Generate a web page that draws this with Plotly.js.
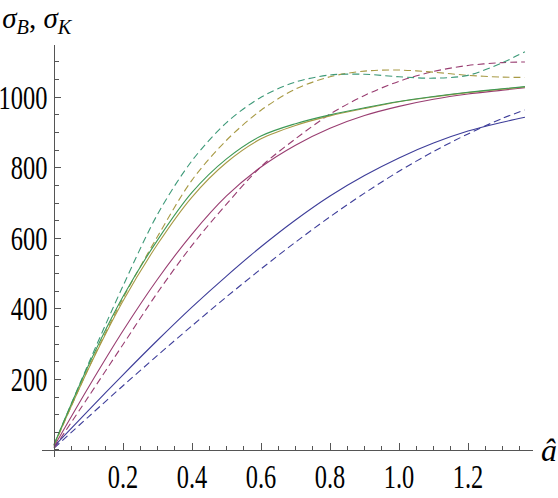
<!DOCTYPE html>
<html>
<head>
<meta charset="utf-8">
<script src="https://cdn.plot.ly/plotly-3.0.1.min.js"></script>
<style>html,body{margin:0;padding:0;background:#fff;}</style>
</head>
<body>
<div id="chart" style="width:558px;height:498px;"></div>
<script>
// x values (â)
const aHat = [0, 0.1, 0.2, 0.3, 0.4, 0.5, 0.6, 0.7, 0.8, 0.9, 1.0, 1.1, 1.2, 1.3, 1.365];

// solid curves (σ_B)
const sigmaB1 = [10, 112, 213, 311, 405, 493, 576, 652, 720, 778, 828, 870, 904, 929, 943];
const sigmaB2 = [10, 178, 338, 484, 612, 720, 802, 864, 912, 948, 974, 994, 1009, 1020, 1027];
const sigmaB3 = [14, 230, 422, 583, 717, 815, 882, 920, 947, 968, 987, 1001, 1013, 1023, 1029];
const sigmaB4 = [15, 240, 435, 595, 730, 825, 890, 925, 950, 970, 988, 1002, 1014, 1024, 1030];

// dashed curves (σ_K)
const sigmaK1 = [5, 94, 182, 268, 352, 434, 513, 589, 661, 728, 790, 846, 896, 940, 964];
const sigmaK2 = [5, 151, 299, 446, 580, 697, 803, 882, 952, 1005, 1045, 1073, 1090, 1098, 1100];
const sigmaK3 = [12, 232, 430, 605, 765, 878, 963, 1023, 1058, 1074, 1077, 1071, 1062, 1057, 1056];
const sigmaK4 = [15, 245, 465, 668, 820, 928, 1000, 1043, 1063, 1065, 1058, 1054, 1062, 1098, 1129];

// tick labels
const xTickVals = [0.2, 0.4, 0.6, 0.8, 1.0, 1.2];
const xTickText = ["0.2", "0.4", "0.6", "0.8", "1.0", "1.2"];
const yTickVals = [200, 400, 600, 800, 1000];
const yTickText = ["200", "400", "600", "800", "1000"];

const colors = ["#3d3d99", "#993d71", "#a89a45", "#3d9956"];
const dashColors = ["#3d3d99", "#993d71", "#a89a45", "#3d9978"];

const solid = [sigmaB1, sigmaB2, sigmaB3, sigmaB4];
const dashed = [sigmaK1, sigmaK2, sigmaK3, sigmaK4];

const traces = [];
dashed.forEach((ys, i) => traces.push({
  x: aHat, y: ys, type: "scatter", mode: "lines",
  line: {color: dashColors[i], width: 1.1, dash: "7px,4px", shape: "spline", smoothing: 0.9},
  hoverinfo: "skip", showlegend: false
}));
solid.forEach((ys, i) => traces.push({
  x: aHat, y: ys, type: "scatter", mode: "lines",
  line: {color: colors[i], width: 1.1, shape: "spline", smoothing: 0.9},
  hoverinfo: "skip", showlegend: false
}));

const axisColor = "#555555";
const serif = "Liberation Serif, Times New Roman, serif";
const tickFont = {family: serif, size: 33, color: "#000"};

const xr = [-0.0348, 1.3884];
const yr = [-20, 1148];

const layout = {
  width: 558, height: 498,
  margin: {l: 42, r: 25, t: 45, b: 41, pad: 0},
  paper_bgcolor: "#fff", plot_bgcolor: "#fff",
  showlegend: false,
  title: {
    text: "<i>σ</i><sub><i>B</i></sub>, <i>σ</i><sub><i>K</i></sub>",
    font: {family: serif, size: 29, color: "#000"},
    xref: "container", x: 0.004, xanchor: "left",
    yref: "container", y: 0.985, yanchor: "top"
  },
  xaxis: {
    range: xr, anchor: "free", position: (0 - yr[0]) / (yr[1] - yr[0]),
    showline: true, linecolor: axisColor, linewidth: 1,
    zeroline: false, showgrid: false,
    tickmode: "array", tickvals: xTickVals, ticktext: xTickText,
    ticks: "inside", ticklen: 7, tickwidth: 1, tickcolor: axisColor,
    ticklabelstandoff: -3,
    minor: {ticks: "inside", ticklen: 4, tickwidth: 1, tickcolor: axisColor, dtick: 0.05, tick0: 0, showgrid: false},
    tickfont: tickFont
  },
  yaxis: {
    range: yr, anchor: "free", position: (0 - xr[0]) / (xr[1] - xr[0]),
    showline: true, linecolor: axisColor, linewidth: 1,
    zeroline: false, showgrid: false,
    tickmode: "array", tickvals: yTickVals, ticktext: yTickText,
    ticks: "inside", ticklen: 6, tickwidth: 1, tickcolor: axisColor,
    minor: {ticks: "inside", ticklen: 4, tickwidth: 1, tickcolor: axisColor, dtick: 50, tick0: 0, showgrid: false},
    tickfont: tickFont
  },
  annotations: [{
    text: "<i>â</i>", xref: "paper", x: 1, xanchor: "left", xshift: 6,
    yref: "y", y: 0, yanchor: "middle", showarrow: false,
    font: {family: serif, size: 32, color: "#000"}
  }]
};

Plotly.newPlot("chart", traces, layout, {staticPlot: true, displayModeBar: false}).then(gd => {
  // condense tick labels horizontally (the reference glyphs are narrow and tall)
  const sx = 0.74;
  gd.querySelectorAll(".xtick text, .ytick text").forEach(t => {
    const x = parseFloat(t.getAttribute("x") || "0");
    const tr = t.getAttribute("transform") || "";
    t.setAttribute("transform", tr + ` translate(${x},0) scale(${sx},1) translate(${-x},0)`);
  });
});
</script>
</body>
</html>
